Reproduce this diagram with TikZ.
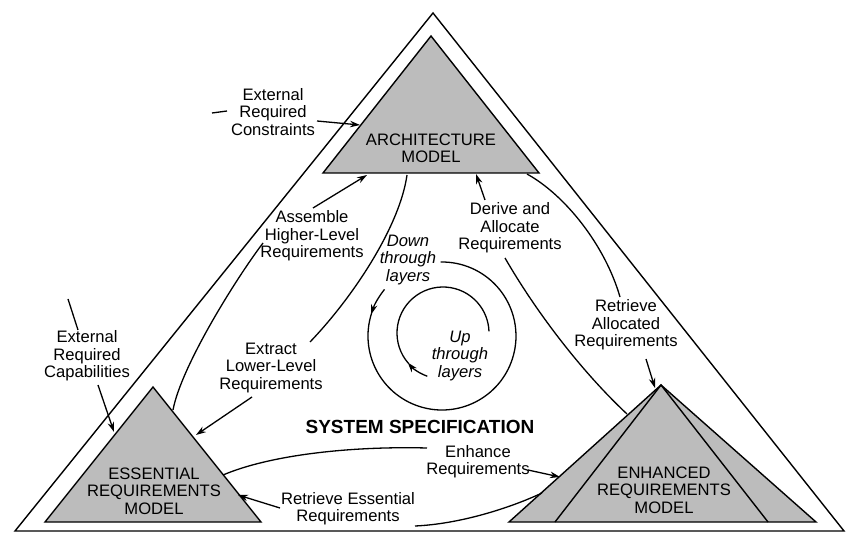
\documentclass[tikz,border=0pt]{standalone}
\usepackage{fontspec}
\setmainfont{Liberation Sans}
\usetikzlibrary{arrows.meta}
\definecolor{modelgray}{RGB}{188,188,188}
\begin{document}
\begin{tikzpicture}[x=1pt,y=-1pt,
  tri/.style={draw=black, line width=1.4pt, line join=miter},
  model/.style={tri, fill=modelgray},
  lbl/.style={align=center, inner sep=0pt, font=\fontsize{16.6}{17.3}\selectfont},
  ilbl/.style={align=center, inner sep=0pt, font=\fontsize{16.6}{17.3}\selectfont\itshape},
  titl/.style={inner sep=0pt, font=\fontsize{19}{21}\selectfont\bfseries},
  conn/.style={line width=1.3pt},
  arr/.style={conn, -{Stealth[length=10pt,width=6.5pt]}},
]
\useasboundingbox (0,0) rectangle (846,534);
\fill[white] (0,0) rectangle (846,534);

% outer triangle
\coordinate (T1) at (433,13);
\coordinate (T2) at (15,531);
\coordinate (T3) at (844,531);
\draw[tri] (T1) -- (T2) -- (T3) -- cycle;

% architecture model
\coordinate (A1) at (431,36);
\coordinate (A2) at (323,173);
\coordinate (A3) at (539,173);
\draw[model] (A1) -- (A2) -- (A3) -- cycle;
\node[lbl] (archtxt) at (431,148) {ARCHITECTURE\\MODEL};

% essential requirements model
\coordinate (E1) at (153,387);
\coordinate (E2) at (45,522);
\coordinate (E3) at (261,522);
\draw[model] (E1) -- (E2) -- (E3) -- cycle;
\node[lbl] (esstxt) at (154,491) {ESSENTIAL\\REQUIREMENTS\\MODEL};

% enhanced requirements model
\coordinate (N1) at (661,385);
\coordinate (N2) at (509,522);
\coordinate (N3) at (816,522);
\coordinate (N4) at (555,522);
\coordinate (N5) at (768,522);
\draw[model] (N1) -- (N2) -- (N3) -- cycle;
\draw[tri] (N4) -- (N1) -- (N5);
\node[lbl] (enhtxt) at (664,490) {ENHANCED\\REQUIREMENTS\\MODEL};

% title
\node[titl] (spec) at (420,427) {SYSTEM SPECIFICATION};

% labels
\node[lbl] (constr) at (273,112) {External\\Required\\Constraints};
\node[lbl] (assem) at (312,236) {Assemble\\Higher-Level\\Requirements};
\node[lbl] (derive) at (510,228) {Derive and\\Allocate\\Requirements};
\node[lbl] (extract) at (271,368) {Extract\\Lower-Level\\Requirements};
\node[lbl] (capab) at (87,356) {External\\Required\\Capabilities};
\node[lbl] (retall) at (626,325) {Retrieve\\Allocated\\Requirements};
\node[lbl] (enhance) at (478,462) {Enhance\\Requirements};
\node[lbl] (retess) at (348,509) {Retrieve Essential\\Requirements};
\node[ilbl] (down) at (408,260) {Down\\through\\layers};
\node[ilbl] (up) at (460,356) {Up\\through\\layers};

% external required constraints
\coordinate (c1) at (212,113);
\coordinate (c2) at (227,111);
\coordinate (c3) at (317,121);
\coordinate (c4) at (360,125);
\draw[conn] (c1) -- (c2);
\draw[arr] (c3) -- (c4);

% external required capabilities
\coordinate (k1) at (68,299);
\coordinate (k2) at (78,330);
\coordinate (k3) at (98,385);
\coordinate (k4) at (114,432);
\draw[conn] (k1) -- (k2);
\draw[arr] (k3) -- (k4);

% assemble higher-level requirements
\coordinate (s1) at (173,410);
\coordinate (s2) at (263,243);
\coordinate (s3) at (313,208);
\coordinate (s4) at (367,175);
\draw[conn] (s1) .. controls (181,367) and (235,280) .. (s2);
\draw[arr] (s3) -- (s4);

% derive and allocate requirements
\coordinate (d1) at (627,414);
\coordinate (d2) at (505,258);
\coordinate (d3) at (485,200);
\coordinate (d4) at (476,174);
\draw[conn] (d1) .. controls (580,370) and (535,310) .. (d2);
\draw[arr] (d3) -- (d4);

% extract lower-level requirements
\coordinate (x1) at (407,175);
\coordinate (x2) at (310,342);
\coordinate (x3) at (252,397);
\coordinate (x4) at (196,435);
\draw[conn] (x1) .. controls (400,225) and (355,295) .. (x2);
\draw[arr] (x3) -- (x4);

% retrieve allocated requirements
\coordinate (r1) at (527,174);
\coordinate (r2) at (620,297);
\coordinate (r3) at (646,359);
\coordinate (r4) at (655,388);
\draw[conn] (r1) .. controls (565,195) and (605,245) .. (r2);
\draw[arr] (r3) -- (r4);

% enhance requirements
\coordinate (h1) at (223,475);
\coordinate (h2) at (427,448);
\coordinate (h3) at (528,470);
\coordinate (h4) at (560,477);
\draw[conn] (h1) .. controls (270,455) and (350,446) .. (h2);
\draw[arr] (h3) -- (h4);

% retrieve essential requirements
\coordinate (g1) at (542,493);
\coordinate (g2) at (415,526);
\coordinate (g3) at (280,508);
\coordinate (g4) at (238,495);
\draw[conn] (g1) .. controls (510,508) and (460,524) .. (g2);
\draw[arr] (g3) -- (g4);

% spiral: down through layers
\coordinate (O) at (442,336);
\draw[arr] (O) ++(-141:74) arc[start angle=-141, end angle=-163, radius=74];
\draw[conn] (O) ++(-162:74) arc[start angle=-162, end angle=-451, radius=74];

% spiral: up through layers
\coordinate (I) at (443,333);
\draw[arr] (I) ++(-250:46) arc[start angle=-250, end angle=-220, radius=46];
\draw[conn] (I) ++(-221:46) arc[start angle=-221, end angle=-2, radius=46];
\end{tikzpicture}
\end{document}
